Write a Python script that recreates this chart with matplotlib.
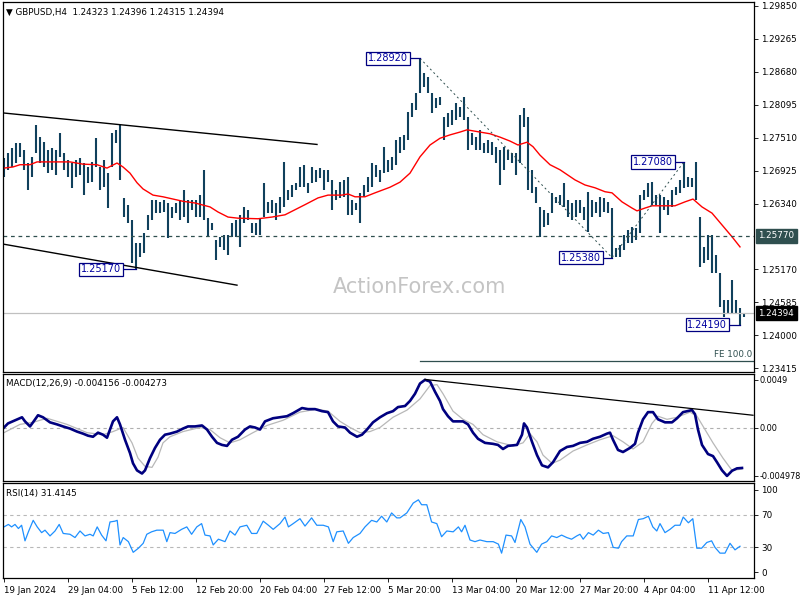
import numpy as np
import matplotlib.pyplot as plt

# GBPUSD H4 bars (every second bar)
high = [1.2715, 1.2724, 1.2733, 1.2742, 1.2742, 1.2729, 1.2706, 1.2717, 1.2774, 1.2752,
        1.2743, 1.2729, 1.2733, 1.2729, 1.2759, 1.2724, 1.2711, 1.2706, 1.2711, 1.2715,
        1.2706, 1.2699, 1.2708, 1.2750, 1.2699, 1.2711, 1.2688, 1.2759, 1.2765, 1.2774,
        1.2644, 1.2632, 1.2605, 1.2564, 1.2564, 1.2582, 1.2614, 1.2640, 1.2640, 1.2637,
        1.2640, 1.2635, 1.2628, 1.2635, 1.2640, 1.2658, 1.2640, 1.2640, 1.2640, 1.2649,
        1.2694, 1.2608, 1.2599, 1.2569, 1.2575, 1.2578, 1.2578, 1.2599, 1.2605, 1.2614,
        1.2628, 1.2623, 1.2599, 1.2599, 1.2608, 1.2671, 1.2637, 1.2640, 1.2635, 1.2646,
        1.2708, 1.2658, 1.2667, 1.2671, 1.2699, 1.2703, 1.2671, 1.2699, 1.2694, 1.2697,
        1.2694, 1.2694, 1.2676, 1.2658, 1.2672, 1.2676, 1.2681, 1.2640, 1.2635, 1.2653,
        1.2667, 1.2681, 1.2706, 1.2703, 1.2694, 1.2735, 1.2711, 1.2717, 1.2747, 1.2752,
        1.2756, 1.2797, 1.2813, 1.2830, 1.2892, 1.2866, 1.2859, 1.2830, 1.2822, 1.2823,
        1.2788, 1.2795, 1.2800, 1.2813, 1.2806, 1.2823, 1.2788, 1.2759, 1.2752, 1.2765,
        1.2742, 1.2747, 1.2743, 1.2735, 1.2729, 1.2735, 1.2729, 1.2724, 1.2724, 1.2791,
        1.2804, 1.2788, 1.2694, 1.2663, 1.2628, 1.2623, 1.2617, 1.2653, 1.2646, 1.2649,
        1.2671, 1.2640, 1.2635, 1.2640, 1.2640, 1.2628, 1.2655, 1.2640, 1.2637, 1.2646,
        1.2644, 1.2637, 1.2626, 1.2555, 1.2560, 1.2578, 1.2587, 1.2592, 1.2590, 1.2649,
        1.2658, 1.2671, 1.2672, 1.2649, 1.2649, 1.2646, 1.2640, 1.2658, 1.2663, 1.2676,
        1.2708, 1.2681, 1.2679, 1.2708, 1.2610, 1.2557, 1.2578, 1.2578, 1.2543, 1.2511,
        1.2463, 1.2463, 1.2498, 1.2463, 1.2448, 1.2440]
low = [1.2681, 1.2694, 1.2699, 1.2706, 1.2717, 1.2694, 1.2658, 1.2681, 1.2724, 1.2706,
       1.2699, 1.2688, 1.2694, 1.2685, 1.2717, 1.2694, 1.2681, 1.2662, 1.2681, 1.2685,
       1.2649, 1.2671, 1.2672, 1.2699, 1.2658, 1.2663, 1.2626, 1.2699, 1.2742, 1.2676,
       1.2610, 1.2599, 1.2528, 1.2517, 1.2539, 1.2546, 1.2587, 1.2605, 1.2617, 1.2617,
       1.2619, 1.2573, 1.2608, 1.2617, 1.2605, 1.2610, 1.2599, 1.2623, 1.2610, 1.2610,
       1.2605, 1.2575, 1.2587, 1.2534, 1.2557, 1.2551, 1.2543, 1.2575, 1.2575, 1.2557,
       1.2599, 1.2605, 1.2582, 1.2578, 1.2578, 1.2610, 1.2617, 1.2617, 1.2605, 1.2617,
       1.2628, 1.2640, 1.2646, 1.2658, 1.2663, 1.2663, 1.2653, 1.2671, 1.2672, 1.2679,
       1.2658, 1.2672, 1.2623, 1.2640, 1.2644, 1.2646, 1.2614, 1.2614, 1.2623, 1.2599,
       1.2646, 1.2655, 1.2663, 1.2681, 1.2672, 1.2688, 1.2690, 1.2694, 1.2703, 1.2724,
       1.2729, 1.2747, 1.2788, 1.2800, 1.2830, 1.2841, 1.2830, 1.2795, 1.2804, 1.2809,
       1.2747, 1.2770, 1.2774, 1.2782, 1.2788, 1.2782, 1.2729, 1.2738, 1.2729, 1.2729,
       1.2724, 1.2724, 1.2720, 1.2706, 1.2667, 1.2694, 1.2711, 1.2706, 1.2685, 1.2706,
       1.2770, 1.2658, 1.2653, 1.2635, 1.2575, 1.2592, 1.2596, 1.2617, 1.2635, 1.2632,
       1.2628, 1.2610, 1.2605, 1.2610, 1.2617, 1.2605, 1.2583, 1.2610, 1.2617, 1.2610,
       1.2619, 1.2617, 1.2538, 1.2539, 1.2539, 1.2551, 1.2564, 1.2564, 1.2569, 1.2582,
       1.2640, 1.2646, 1.2632, 1.2632, 1.2582, 1.2623, 1.2614, 1.2628, 1.2649, 1.2653,
       1.2662, 1.2663, 1.2663, 1.2640, 1.2521, 1.2528, 1.2534, 1.2511, 1.2511, 1.2450,
       1.2432, 1.2439, 1.2439, 1.2439, 1.2419, 1.2432]

# moving average (red)
ma_idx = [0, 2.25, 4, 6.5, 8.25, 11.5, 16.5, 19.75, 23.25, 25.75, 28.25, 29.75, 31.5, 33.25,
          34.75, 37.25, 39.75, 42.25, 44.75, 47.75, 51.5, 53.5, 56, 58.5, 63.5, 67, 70.25,
          72.75, 75.25, 78.5, 81, 84.5, 86, 87.75, 90.25, 92.75, 96.5, 99, 101.5, 104, 106.5,
          109, 111.5, 114, 115.75, 119, 121.5, 124, 126.5, 128.5, 130.75, 132.25, 134, 136.5,
          139, 142.75, 145.25, 147.75, 150.25, 152, 154.5, 157, 158.25, 160.25, 162, 167.75,
          170.25, 172.25, 174.5, 177, 179.5, 182, 184]
ma_val = [1.2697, 1.2699, 1.2703, 1.2703, 1.2708, 1.2708, 1.2708, 1.2704, 1.2703, 1.2697,
          1.2706, 1.2699, 1.2688, 1.2671, 1.2660, 1.2649, 1.2646, 1.2642, 1.2638, 1.2635,
          1.2628, 1.2619, 1.2610, 1.2608, 1.2607, 1.2610, 1.2614, 1.2623, 1.2632, 1.2644,
          1.2649, 1.2649, 1.2651, 1.2646, 1.2646, 1.2653, 1.2663, 1.2672, 1.2688, 1.2717,
          1.2738, 1.2750, 1.2756, 1.2761, 1.2765, 1.2761, 1.2758, 1.2752, 1.2745, 1.2738,
          1.2743, 1.2735, 1.2720, 1.2703, 1.2694, 1.2676, 1.2667, 1.2662, 1.2655, 1.2653,
          1.2637, 1.2626, 1.2621, 1.2626, 1.2630, 1.2630, 1.2637, 1.2642, 1.2628, 1.2617,
          1.2596, 1.2575, 1.2557]

# MACD(12,26,9)
macd_idx = [0, 1, 2.75, 4.5, 5.25, 6.5, 7.25, 8.5, 9.75, 11.5, 13.25, 14.75, 16.5, 18.25,
            19.75, 21, 22.25, 23.5, 24.75, 25.75, 26.5, 27.25, 28.25, 29, 30.25, 31.5, 32.25,
            33.25, 34.5, 35.25, 36.5, 37.75, 39, 40.25, 41.5, 43.25, 44.75, 46, 47.75, 49.5,
            50.75, 52, 53.25, 54.5, 55.75, 57, 58.5, 60.25, 61.5, 62.75, 64, 65.25, 67.25, 69,
            70.75, 72.25, 74.5, 76, 77.75, 79.5, 81, 82.25, 83.5, 85.25, 86.5, 88.25, 89.5,
            90.75, 92.25, 94, 95.75, 97.25, 98.5, 100.25, 101.5, 102.75, 104, 105.25, 106.5,
            107.75, 109, 109.75, 111, 112.25, 114.75, 116, 117.25, 118.5, 120.25, 122.25, 123.5,
            124.75, 126, 128.25, 129.5, 130, 130.75, 132, 133.25, 134.5, 136, 137.25, 139,
            140.75, 142.25, 144, 145.75, 147.25, 149, 150.75, 151.5, 152.25, 153.5, 154.75,
            156.5, 157.75, 158.5, 159.75, 161, 162.25, 163.5, 165.25, 167, 168.25, 169.75, 172,
            172.75, 173.5, 174.5, 176, 177.25, 178.25, 179.5, 180.75, 182, 183.25, 184.5]
macd_val = [0.0, 0.00042, 0.00074, 0.00105, 0.00063, 0.00011, 0.00053, 0.00126, 0.00105,
            0.00053, 0.00032, 0.00011, -0.00011, -0.00042, -0.00063, -0.00084, -0.00095,
            -0.00053, -0.00074, -0.00105, -0.00021, 0.00063, 0.00105, 0.00032, -0.00126,
            -0.00263, -0.00368, -0.00441, -0.00473, -0.00441, -0.00315, -0.00210, -0.00126,
            -0.00074, -0.00063, -0.00042, -0.00011, 0.00011, 0.00011, 0.00021, -0.00021,
            -0.00095, -0.00158, -0.00179, -0.00189, -0.00126, -0.00095, -0.00021, 0.00011,
            0.0, -0.00021, 0.00063, 0.00095, 0.00105, 0.00116, 0.00147, 0.00200, 0.00189,
            0.00189, 0.00168, 0.00158, 0.00063, 0.00011, 0.0, -0.00053, -0.00095, -0.00074,
            -0.00021, 0.00053, 0.00105, 0.00147, 0.00168, 0.00210, 0.00221, 0.00273, 0.00347,
            0.00452, 0.00490, 0.00473, 0.00368, 0.00273, 0.00189, 0.00116, 0.00063, 0.00063,
            0.00032, -0.00053, -0.00116, -0.00158, -0.00168, -0.00179, -0.00221, -0.00189,
            -0.00179, -0.00074, 0.00042, 0.0, -0.00147, -0.00284, -0.00389, -0.00410,
            -0.00357, -0.00242, -0.00200, -0.00189, -0.00158, -0.00147, -0.00116, -0.00095,
            -0.00063, -0.00053, -0.00126, -0.00231, -0.00252, -0.00210, -0.00168, -0.00053,
            0.00084, 0.00158, 0.00158, 0.00084, 0.00053, 0.00053, 0.00095, 0.00158, 0.00179,
            0.00137, -0.00021, -0.00179, -0.00273, -0.00294, -0.00357, -0.00440, -0.00498,
            -0.00445, -0.00420, -0.00416]
sig_idx = [0, 4, 7.25, 10.75, 15.75, 20.75, 24.75, 27.25, 29.75, 32, 33.5, 35.25, 37, 38.5,
           39.75, 41.5, 44.75, 49, 51.5, 54, 56.5, 59, 62.25, 65.75, 69.75, 74, 78.25, 81, 84,
           86.5, 89, 91.5, 94, 97.25, 100.75, 104, 106.5, 108.25, 109.75, 112.25, 114.75,
           117.25, 119.75, 123.25, 127.25, 129.75, 131.5, 133.25, 134.75, 137, 139, 142.25,
           145.75, 149, 152.25, 154.75, 157.25, 159.75, 162, 163.5, 165.75, 168.25, 171.5,
           173.25, 175.25, 177.25, 179.75, 182, 184.5]
sig_val = [-0.00053, 0.00032, 0.00053, 0.00095, 0.00032, -0.00053, -0.00074, -0.00042, 0.0,
           -0.00158, -0.00315, -0.00399, -0.00410, -0.00305, -0.00158, -0.00095, -0.00042, 0.0,
           -0.00021, -0.00105, -0.00158, -0.00126, -0.00053, 0.00021, 0.00074, 0.00158,
           0.00189, 0.00168, 0.00063, 0.0, -0.00053, -0.00042, 0.0, 0.00105, 0.00179, 0.00294,
           0.00431, 0.00441, 0.00347, 0.00168, 0.00084, 0.00032, -0.00074, -0.00147, -0.00189,
           -0.00158, -0.00063, -0.00147, -0.00284, -0.00368, -0.00336, -0.00242, -0.00179,
           -0.00126, -0.00084, -0.00147, -0.00221, -0.00147, 0.00042, 0.00116, 0.00084,
           0.00105, 0.00158, 0.00116, -0.00021, -0.00158, -0.00315, -0.00441, -0.00427]

# RSI(14)
rsi_idx = [0, 1.1, 1.9, 2.75, 3.6, 4.4, 5.25, 6.1, 7.3, 8.3, 9.4, 10.25, 11.5, 12.75, 13.8,
           14.8, 16.5, 17.75, 19, 20.25, 21.5, 22.3, 23.3, 24.4, 25.5, 26.5, 27.75, 28.3, 29,
           29.8, 31.1, 32.3, 33.6, 34.8, 35.7, 36.9, 38.2, 39.8, 40.7, 41.5, 42.75, 44.4, 45.7,
           46.9, 48.2, 49.4, 50.25, 51.5, 52.3, 53.6, 55.25, 56.5, 57.75, 59, 60.7, 61.9, 63.2,
           64.8, 66.1, 67.3, 69, 70.25, 71.1, 72.3, 74, 75.25, 76.9, 78.2, 79.8, 81.1, 82.3,
           83.2, 84.8, 86.1, 87.3, 89, 90.25, 91.9, 93.2, 94.4, 95.7, 96.9, 98.2, 99, 100.7,
           102.3, 103.6, 104.4, 105.7, 106.9, 108.2, 109.4, 110.7, 112.3, 113.6, 114.4, 115.25,
           116.5, 117.75, 119, 120.7, 122.3, 123.6, 124.4, 125.5, 126.9, 127.75, 129.2, 130.25,
           131.5, 133.2, 134.4, 135.7, 136.9, 138.2, 139.4, 140.7, 141.9, 143.2, 144, 144.8,
           146.1, 147.3, 148.6, 149.8, 151.1, 152.3, 153.6, 154.4, 155.7, 157.3, 158.6, 159.8,
           161.1, 162.2, 163.2, 164, 165.25, 166.5, 167.75, 169, 169.8, 171.1, 172.2, 173.2,
           174.4, 175.7, 176.9, 177.75, 179, 180.25, 181.5, 182.75, 184]
rsi_val = [55, 58, 55, 58, 53, 57, 38, 49, 63, 55, 48, 51, 44, 50, 58, 47, 46, 42, 50, 44,
           46, 44, 55, 45, 38, 61, 62, 63, 33, 42, 37, 24, 29, 35, 46, 49, 51, 51, 37, 48,
           47, 52, 55, 46, 55, 59, 45, 44, 33, 40, 37, 50, 45, 55, 57, 47, 47, 62, 57, 52,
           59, 67, 55, 59, 65, 56, 66, 57, 57, 55, 37, 49, 50, 35, 42, 47, 55, 63, 61, 68,
           61, 72, 66, 66, 72, 84, 88, 82, 82, 61, 59, 43, 50, 49, 55, 49, 57, 39, 37, 39,
           37, 37, 34, 23, 45, 44, 36, 64, 55, 34, 24, 34, 37, 44, 42, 45, 42, 40, 44, 46,
           40, 48, 45, 51, 47, 48, 30, 29, 37, 44, 44, 64, 65, 68, 55, 50, 59, 48, 52, 57,
           57, 67, 60, 65, 29, 29, 36, 38, 30, 23, 23, 35, 27, 31.4]

date_idx = [0, 16, 32, 48, 64, 80, 96, 112, 128, 144, 160, 176]
date_labels = ['19 Jan 2024', '29 Jan 04:00', '5 Feb 12:00', '12 Feb 20:00', '20 Feb 04:00',
               '27 Feb 12:00', '5 Mar 20:00', '13 Mar 04:00', '20 Mar 12:00', '27 Mar 20:00',
               '4 Apr 04:00', '11 Apr 12:00']
price_ticks = [1.29850, 1.29265, 1.28680, 1.28095, 1.27510, 1.26925, 1.26340,
               1.25170, 1.24585, 1.24000, 1.23415]

# swing labels: (text idx, bar idx, price)
swings = [(101.0, 104, 1.2892), (29.3, 33, 1.2517), (149.3, 152, 1.2538),
          (167.3, 170, 1.2708), (180.8, 184, 1.2419)]
upper_tl = ([-0.25, 78.25], [1.2795, 1.2739])
lower_tl = ([-0.25, 58.25], [1.2562, 1.2489])
zigzag = ([104, 152, 170], [1.2892, 1.2538, 1.2708])
macd_tl = ([105.25, 187.25], [0.00494, 0.00126])
level = 1.2577
last_price = 1.24394
fe100 = 1.2354

plt.rcParams['font.family'] = 'DejaVu Sans'
fs = 6.3
W, H = 800, 600
fig = plt.figure(figsize=(8, 6), dpi=100)


def box(x0, y0, x1, y1):
    return [x0 / W, 1 - y1 / H, (x1 - x0) / W, (y1 - y0) / H]


ax1 = fig.add_axes(box(3, 2, 754, 372))
ax2 = fig.add_axes(box(3, 374, 754, 481))
ax3 = fig.add_axes(box(3, 483, 754, 578))
for ax in (ax1, ax2, ax3):
    ax.set_xlim(-0.25, 187.5)
    ax.yaxis.tick_right()
    ax.tick_params(axis='y', labelsize=fs, length=3, width=0.6, pad=2)
    for s in ax.spines.values():
        s.set_linewidth(0.9)
for ax in (ax1, ax2):
    ax.set_xticks([])

# price panel
idx = np.arange(len(high))
ax1.vlines(idx, low, high, color='#10405c', lw=1.5)
ax1.plot(ma_idx, ma_val, color='red', lw=1.0)
ax1.axhline(level, color='#2f4f4f', lw=0.9, ls=(0, (3, 3)))
ax1.axhline(last_price, color='#c0c0c0', lw=0.9)
ax1.plot([104, 187.5], [fe100, fe100], color='#2f4f4f', lw=0.9)
ax1.text(187, fe100 + 0.0004, 'FE 100.0', ha='right', va='bottom', fontsize=fs, color='#2f4f4f')
ax1.plot(*upper_tl, color='black', lw=1.0)
ax1.plot(*lower_tl, color='black', lw=1.0)
ax1.plot(*zigzag, color='#2f4f4f', lw=0.7, ls=(0, (2, 3)))
for tx, bx, p in swings:
    ax1.plot([tx + 0.4, bx], [p, p], color='#000080', lw=0.9)
    ax1.text(tx, p, '%.5f' % p, ha='right', va='center', fontsize=7, color='#0000a0',
             bbox=dict(boxstyle='square,pad=0.18', fc='white', ec='#000080', lw=0.9))
ax1.set_ylim(1.23347, 1.29921)
ax1.set_yticks(price_ticks)
ax1.set_yticklabels(['%.5f' % t for t in price_ticks])
ax1.text(1.006, level, '1.25770', transform=ax1.get_yaxis_transform(), ha='left', va='center',
         fontsize=fs, color='white', clip_on=False,
         bbox=dict(boxstyle='square,pad=0.3', fc='#2f4f4f', ec='#2f4f4f'))
ax1.text(1.006, last_price, '1.24394', transform=ax1.get_yaxis_transform(), ha='left',
         va='center', fontsize=fs, color='white', clip_on=False,
         bbox=dict(boxstyle='square,pad=0.3', fc='black', ec='black'))
ax1.text(0.004, 0.985, '\u25bc GBPUSD,H4  1.24323 1.24396 1.24315 1.24394',
         transform=ax1.transAxes, ha='left', va='top', fontsize=fs)
fig.text(0.525, 1 - 287 / H, 'ActionForex.com', ha='center', va='center', fontsize=15,
         color='#c4c4c4')

# MACD panel
ax2.axhline(0, color='#b0b0b0', lw=0.8, ls=(0, (3, 3)))
ax2.plot(sig_idx, sig_val, color='#b8b8b8', lw=0.9)
ax2.plot(macd_idx, macd_val, color='#00007f', lw=1.9)
ax2.plot(*macd_tl, color='black', lw=0.9)
ax2.set_ylim(-0.0055, 0.0055)
ax2.set_yticks([0.0049, 0.0, -0.004978])
ax2.set_yticklabels(['0.0049', '0.00', '-0.004978'])
ax2.tick_params(axis='y', labelsize=5.9, pad=1)
ax2.text(0.004, 0.95, 'MACD(12,26,9) -0.004156 -0.004273', transform=ax2.transAxes,
         ha='left', va='top', fontsize=fs)

# RSI panel
for lv in (30, 70):
    ax3.axhline(lv, color='#b8b8b8', lw=0.8, ls=(0, (3, 3)))
ax3.plot(rsi_idx, rsi_val, color='#1e90ff', lw=0.9)
ax3.set_ylim(-7.3, 108.5)
ax3.set_yticks([0, 30, 70, 100])
ax3.text(0.004, 0.94, 'RSI(14) 31.4145', transform=ax3.transAxes, ha='left', va='top',
         fontsize=fs)
ax3.set_xticks(date_idx)
ax3.set_xticklabels(date_labels, fontsize=fs, ha='left')
ax3.tick_params(axis='x', length=3, width=0.6, pad=3)

fig.savefig('out.png', dpi=100)
